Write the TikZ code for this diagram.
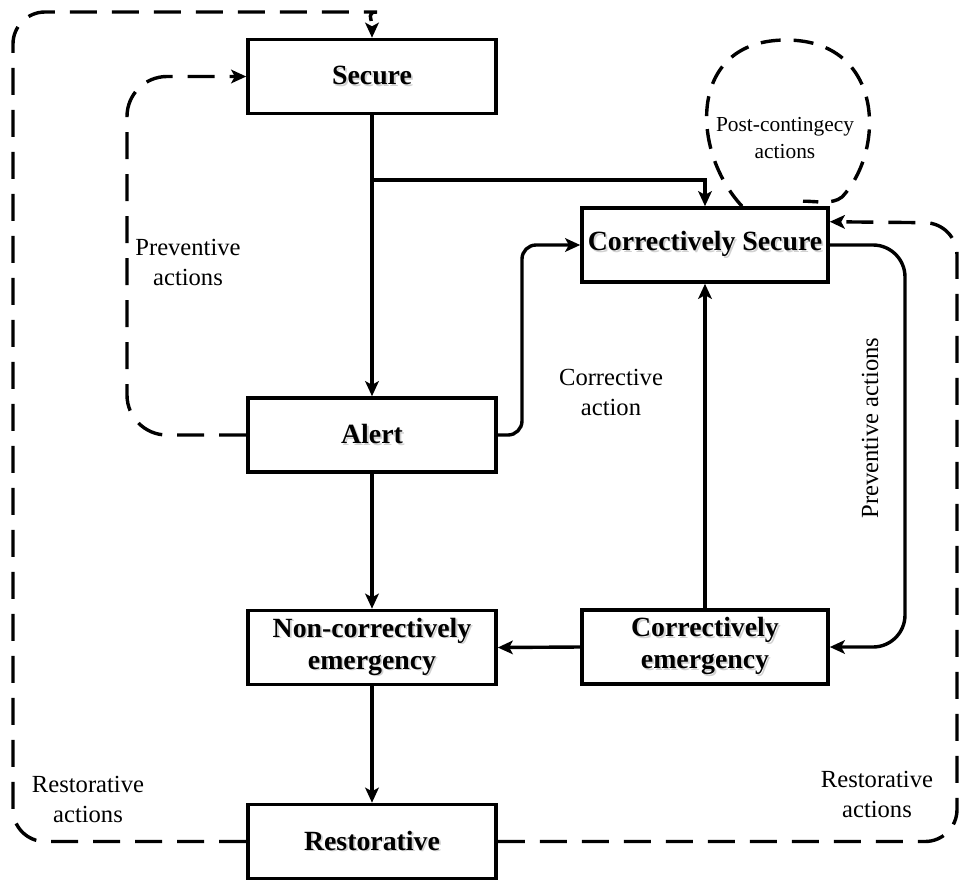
\documentclass[tikz,border=0pt]{standalone}
\usepackage{fontspec}
\setmainfont{Liberation Serif}
\usetikzlibrary{arrows.meta,calc}

% bold state label with a soft drop shadow
\newcommand\shd[1]{\makebox[0pt][l]{\hspace{0.9pt}\raisebox{-0.9pt}{\color{black!18}#1}}#1}

\begin{document}
\begin{tikzpicture}[x=0.5pt,y=-0.5pt,
  state/.style={draw, line width=1.8pt, fill=white, minimum width=124pt,
    minimum height=37pt, inner sep=1pt, align=center,
    font=\fontsize{13.9}{16}\selectfont\bfseries},
  tip/.style={-{Stealth[length=7.5pt,width=6.8pt,inset=1.8pt]}},
  flow/.style={tip, line width=1.7pt},
  dashflow/.style={line width=1.7pt, dash pattern=on 13.5pt off 7.5pt},
  lbl/.style={align=center, font=\fontsize{12.3}{15}\selectfont},
  small/.style={align=center, font=\fontsize{10.7}{13.5}\selectfont}]
\useasboundingbox (0,0) rectangle (960,880);

% states
\node[state] (sec)  at (372,76.5) {\shd{Secure}};
\node[state] (alt)  at (372,435)  {\shd{Alert}};
\node[state] (nce)  at (372,647.5) {\shd{Non-correctively}\\\shd{emergency}};
\node[state] (res)  at (372,841.5) {\shd{Restorative}};
\node[state, minimum width=123pt] (cs) at (705,245) {\shd{Correctively Secure}};
\node[state, minimum width=123pt] (ce) at (705,647) {\shd{Correctively}\\\shd{emergency}};

% helper coordinates for routing
\coordinate (split) at (372,180);
\coordinate (ca)    at (522,0);
\coordinate (pr)    at (905,0);
\coordinate (pl)    at (127,0);
\coordinate (ol)    at (13,0);
\coordinate (or)    at (957,0);

% solid transitions
\draw[flow] (sec) -- (alt);
\draw[flow] (split) -| (cs.north);
\draw[flow, rounded corners=7pt] (alt.east) -| (ca |- cs.west) -- (cs.west);
\draw[flow] (ce) -- (cs);
\draw[flow] (ce.west) -- (nce.east);
\draw[flow, rounded corners=16pt] (cs.east) -- (pr |- cs.east) -- (pr |- ce.east) -- (ce.east);
\draw[flow] (alt) -- (nce);
\draw[flow] (nce) -- (res);

% dashed control actions
\draw[dashflow, tip, rounded corners=20pt]
  (alt.west) -- (pl |- alt.west) -- (pl |- sec.west) -- (sec.west);
\draw[dashflow, tip, rounded corners=16pt]
  (res.west) -- (ol |- res.west) -- (13,12) -- (345,12)
  [sharp corners] .. controls (366,12) and (372,18) .. (sec.north);
\draw[dashflow, tip, rounded corners=16pt]
  (res.east) -- (or |- res.east) -- (957,223)
  -- ($(cs.north east)!0.2!(cs.south east)$);
\draw[line width=1.7pt, dash pattern=on 10pt off 6.5pt]
  ($(cs.north)+(37,0)$) .. controls (690,150) and (688,40) .. (786,40)
  .. controls (884,40) and (886,150) .. (842,197)
  .. controls (832,205) and (816,201) .. ($(cs.north)+(98,-5)$);

% action labels
\node[lbl] (pa1) at (188,262) {Preventive\\actions};
\node[lbl] (cor) at (611,392) {Corrective\\action};
\node[lbl, rotate=90] (pa2) at (870,428) {Preventive actions};
\node[lbl] (ra1) at (88,799) {Restorative\\actions};
\node[lbl] (ra2) at (877,794) {Restorative\\actions};
\node[small] (pc) at (785,138) {Post-contingecy\\actions};
\end{tikzpicture}
\end{document}
